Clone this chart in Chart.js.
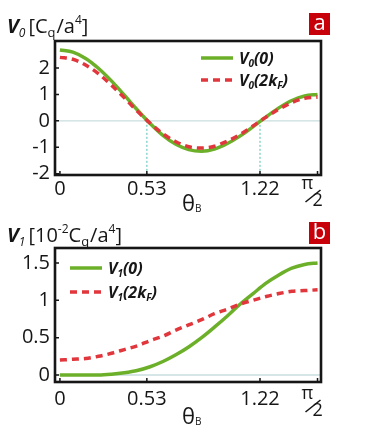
<!DOCTYPE html>
<html>
<head>
<meta charset="utf-8">
<script src="https://cdn.jsdelivr.net/npm/chart.js@4"></script>
<style>
  html, body { margin: 0; padding: 0; background: #fff; }
  canvas { display: block; }
</style>
</head>
<body>
<canvas id="chartA" width="366" height="218"></canvas>
<canvas id="chartB" width="366" height="217"></canvas>
<script>
'use strict';

// theta_B sample points (0 .. pi/2)
const thetaB = [0, 0.079, 0.157, 0.236, 0.314, 0.393, 0.471, 0.550, 0.628, 0.707, 0.785,
                0.864, 0.942, 1.021, 1.100, 1.178, 1.257, 1.335, 1.414, 1.492, 1.571];

// panel a : V0 [Cq/a^4]
const v0Zero  = [2.68, 2.60, 2.36, 1.98, 1.51, 0.97, 0.42, -0.10, -0.55, -0.89, -1.09,
                 -1.15, -1.07, -0.86, -0.57, -0.22, 0.15, 0.49, 0.77, 0.94, 1.00];
const v0TwoKF = [2.40, 2.33, 2.11, 1.78, 1.35, 0.87, 0.37, -0.09, -0.49, -0.79, -0.98,
                 -1.03, -0.96, -0.77, -0.51, -0.19, 0.14, 0.44, 0.69, 0.85, 0.90];

// panel b : V1 [10^-2 Cq/a^4]
const v1Zero  = [0.00, 0.00, 0.00, 0.00, 0.01, 0.03, 0.06, 0.11, 0.18, 0.27, 0.375,
                 0.50, 0.64, 0.79, 0.95, 1.09, 1.23, 1.34, 1.43, 1.48, 1.50];
const v1TwoKF = [0.20, 0.21, 0.22, 0.25, 0.29, 0.34, 0.39, 0.46, 0.52, 0.60, 0.67,
                 0.74, 0.82, 0.88, 0.95, 1.00, 1.05, 1.09, 1.12, 1.13, 1.14];

const xTickVals   = [0, 0.53, 1.22, 1.5708];
const xTickLabels = ['0', '0.53', '1.22', 'π/2'];
const v0TickVals  = [-2, -1, 0, 1, 2];
const v1TickVals  = [0, 0.5, 1, 1.5];
const v1TickLabels = ['0', '0.5', '1', '1.5'];

const GREEN = '#6cb02a';
const RED = '#e0363c';
const INK = '#161616';
const FONT = '"Open Sans", "Liberation Sans", sans-serif';

// draw text made of pieces (sub/superscripts)
function rich(ctx, x, y, parts) {
    parts.forEach(p => {
        ctx.font = p.f;
        ctx.fillText(p.t, x, y + (p.dy || 0));
        x += ctx.measureText(p.t).width + (p.k || 0);
    });
}

const deco = {
    id: 'deco',
    beforeDatasetsDraw(chart, args, o) {
        const ctx = chart.ctx, a = chart.chartArea;
        const xs = chart.scales.x, ys = chart.scales.y;
        const y0 = ys.getPixelForValue(0);
        ctx.save();
        ctx.strokeStyle = '#c9dede';
        ctx.lineWidth = 1.3;
        ctx.beginPath();
        ctx.moveTo(a.left, y0);
        ctx.lineTo(a.right, y0);
        ctx.stroke();
        if (o.guides) {
            ctx.strokeStyle = '#7fd3c9';
            ctx.lineWidth = 1.4;
            ctx.setLineDash([2, 2]);
            o.guides.forEach(v => {
                const px = xs.getPixelForValue(v);
                ctx.beginPath();
                ctx.moveTo(px, y0);
                ctx.lineTo(px, a.bottom);
                ctx.stroke();
            });
        }
        ctx.restore();
    },
    afterDraw(chart, args, o) {
        const ctx = chart.ctx, a = chart.chartArea;
        const xs = chart.scales.x, ys = chart.scales.y;
        ctx.save();
        // frame
        ctx.strokeStyle = INK;
        ctx.lineWidth = 2.6;
        ctx.strokeRect(a.left, a.top, a.right - a.left, a.bottom - a.top);
        // inward tick marks
        ctx.lineWidth = 1.5;
        ctx.beginPath();
        ys.ticks.forEach(t => {
            const py = ys.getPixelForValue(t.value);
            ctx.moveTo(a.left, py);
            ctx.lineTo(a.left + 4, py);
        });
        xs.ticks.forEach(t => {
            const px = xs.getPixelForValue(t.value);
            ctx.moveTo(px, a.bottom);
            ctx.lineTo(px, a.bottom - 4);
        });
        ctx.stroke();

        ctx.fillStyle = INK;
        ctx.textBaseline = 'alphabetic';
        ctx.textAlign = 'left';

        // pi/2 tick label as a slanted fraction
        const pp = xTickLabels[3].split('/');
        const pxp = xs.getPixelForValue(xTickVals[3]);
        const ty = a.bottom + o.fracDy;
        ctx.font = '18px ' + FONT;
        ctx.fillText(pp[0], pxp - 16, ty + 14);
        ctx.fillText(pp[1], pxp - 5, ty + 31);
        ctx.lineWidth = 1.6;
        ctx.strokeStyle = INK;
        ctx.beginPath();
        ctx.moveTo(pxp - 12, ty + 27);
        ctx.lineTo(pxp + 3, ty + 15);
        ctx.stroke();

        // axis title theta_B
        const cx = (a.left + a.right) / 2 + 0;
        rich(ctx, cx - 6, a.bottom + o.thetaDy, [
            { t: 'θ', f: '22px ' + FONT },
            { t: 'B', f: '10px ' + FONT, dy: 1 }
        ]);

        // panel title
        rich(ctx, 7, o.titleY, o.title);

        // panel letter box
        ctx.fillStyle = '#c8000a';
        ctx.fillRect(309, o.boxY, 21, 22);
        ctx.fillStyle = '#fff';
        ctx.textAlign = 'center';
        ctx.font = '22px ' + FONT;
        ctx.fillText(o.letter, 319.5, o.boxY + 17);
        ctx.textAlign = 'left';

        // legend
        chart.data.datasets.forEach((ds, i) => {
            const ly = o.legend.y[i];
            ctx.strokeStyle = ds.borderColor;
            ctx.lineWidth = ds.borderWidth;
            ctx.setLineDash(ds.borderDash || []);
            ctx.beginPath();
            ctx.moveTo(o.legend.x, ly);
            ctx.lineTo(o.legend.x + 32, ly);
            ctx.stroke();
            ctx.setLineDash([]);
            ctx.fillStyle = INK;
            rich(ctx, o.legend.x + 38, ly + 6, o.legend.text[i]);
        });
        ctx.restore();
    }
};

function sub(t) { return { t: t, f: 'italic bold 10px ' + FONT, dy: 3 }; }
function bi(t) { return { t: t, f: 'italic bold 16px ' + FONT }; }

function panel(id, cfg) {
    return new Chart(document.getElementById(id), {
        type: 'line',
        data: {
            datasets: [
                {
                    label: cfg.names[0],
                    data: thetaB.map((x, i) => ({ x: x, y: cfg.green[i] })),
                    borderColor: GREEN,
                    borderWidth: 3.5,
                    pointRadius: 0,
                    cubicInterpolationMode: 'monotone',
                    order: 1
                },
                {
                    label: cfg.names[1],
                    data: thetaB.map((x, i) => ({ x: x, y: cfg.red[i] })),
                    borderColor: RED,
                    borderWidth: 3.5,
                    borderDash: [7, 5],
                    pointRadius: 0,
                    cubicInterpolationMode: 'monotone',
                    order: 0
                }
            ]
        },
        options: {
            responsive: false,
            animation: false,
            layout: { padding: { top: cfg.top, right: 45, left: 0, bottom: 0 } },
            plugins: {
                legend: { display: false },
                tooltip: { enabled: false },
                deco: cfg.deco
            },
            scales: {
                x: {
                    type: 'linear',
                    min: -0.03,
                    max: 1.592,
                    grid: { display: false, drawTicks: false },
                    border: { display: false },
                    afterBuildTicks: s => { s.ticks = xTickVals.map(v => ({ value: v })); },
                    afterFit: s => { s.height = cfg.xh; },
                    ticks: {
                        autoSkip: false,
                        maxRotation: 0,
                        padding: cfg.xpad,
                        color: INK,
                        font: { family: FONT, size: 20 },
                        callback: (v, i) => (i === 3 ? '' : xTickLabels[i])
                    }
                },
                y: {
                    min: cfg.ymin,
                    max: cfg.ymax,
                    grid: { display: false, drawTicks: false },
                    border: { display: false },
                    afterBuildTicks: s => { s.ticks = cfg.yticks.map(v => ({ value: v })); },
                    afterFit: s => { s.width = 55; },
                    ticks: {
                        padding: 5,
                        color: INK,
                        font: { family: FONT, size: 20 },
                        callback: (v, i) => cfg.ylabels[i]
                    }
                }
            }
        },
        plugins: [deco]
    });
}

panel('chartA', {
    names: ['V0(0)', 'V0(2kF)'],
    green: v0Zero,
    red: v0TwoKF,
    top: 41,
    xh: 43,
    xpad: 2,
    ymin: -2.05,
    ymax: 3.02,
    yticks: v0TickVals,
    ylabels: v0TickVals.map(String),
    deco: {
        guides: [0.53, 1.22],
        fracDy: 0,
        thetaDy: 36,
        titleY: 33,
        boxY: 13,
        letter: 'a',
        title: [
            { t: 'V', f: 'italic bold 20px ' + FONT },
            { t: '0', f: 'italic 12px ' + FONT, dy: 4, k: 3 },
            { t: '[C', f: '20px ' + FONT },
            { t: 'q', f: '13px ' + FONT, dy: 4, k: 1 },
            { t: '/a', f: '20px ' + FONT },
            { t: '4', f: '12px ' + FONT, dy: -9 },
            { t: ']', f: '20px ' + FONT }
        ],
        legend: {
            x: 201,
            y: [58, 80],
            text: [
                [bi('V'), sub('0'), bi('(0)')],
                [bi('V'), sub('0'), bi('(2k'), sub('F'), bi(')')]
            ]
        }
    }
});

panel('chartB', {
    names: ['V1(0)', 'V1(2kF)'],
    green: v1Zero,
    red: v1TwoKF,
    top: 30,
    xh: 53,
    xpad: 5,
    ymin: -0.094,
    ymax: 1.70,
    yticks: v1TickVals,
    ylabels: v1TickLabels,
    deco: {
        fracDy: 3,
        thetaDy: 42,
        titleY: 24,
        boxY: 4,
        letter: 'b',
        title: [
            { t: 'V', f: 'italic bold 20px ' + FONT },
            { t: '1', f: 'italic 12px ' + FONT, dy: 4, k: 3 },
            { t: '[10', f: '20px ' + FONT },
            { t: '-2', f: '12px ' + FONT, dy: -9 },
            { t: 'C', f: '20px ' + FONT },
            { t: 'q', f: '13px ' + FONT, dy: 4, k: 1 },
            { t: '/a', f: '20px ' + FONT },
            { t: '4', f: '12px ' + FONT, dy: -9 },
            { t: ']', f: '20px ' + FONT }
        ],
        legend: {
            x: 70,
            y: [50, 74],
            text: [
                [bi('V'), sub('1'), bi('(0)')],
                [bi('V'), sub('1'), bi('(2k'), sub('F'), bi(')')]
            ]
        }
    }
});
</script>
</body>
</html>
